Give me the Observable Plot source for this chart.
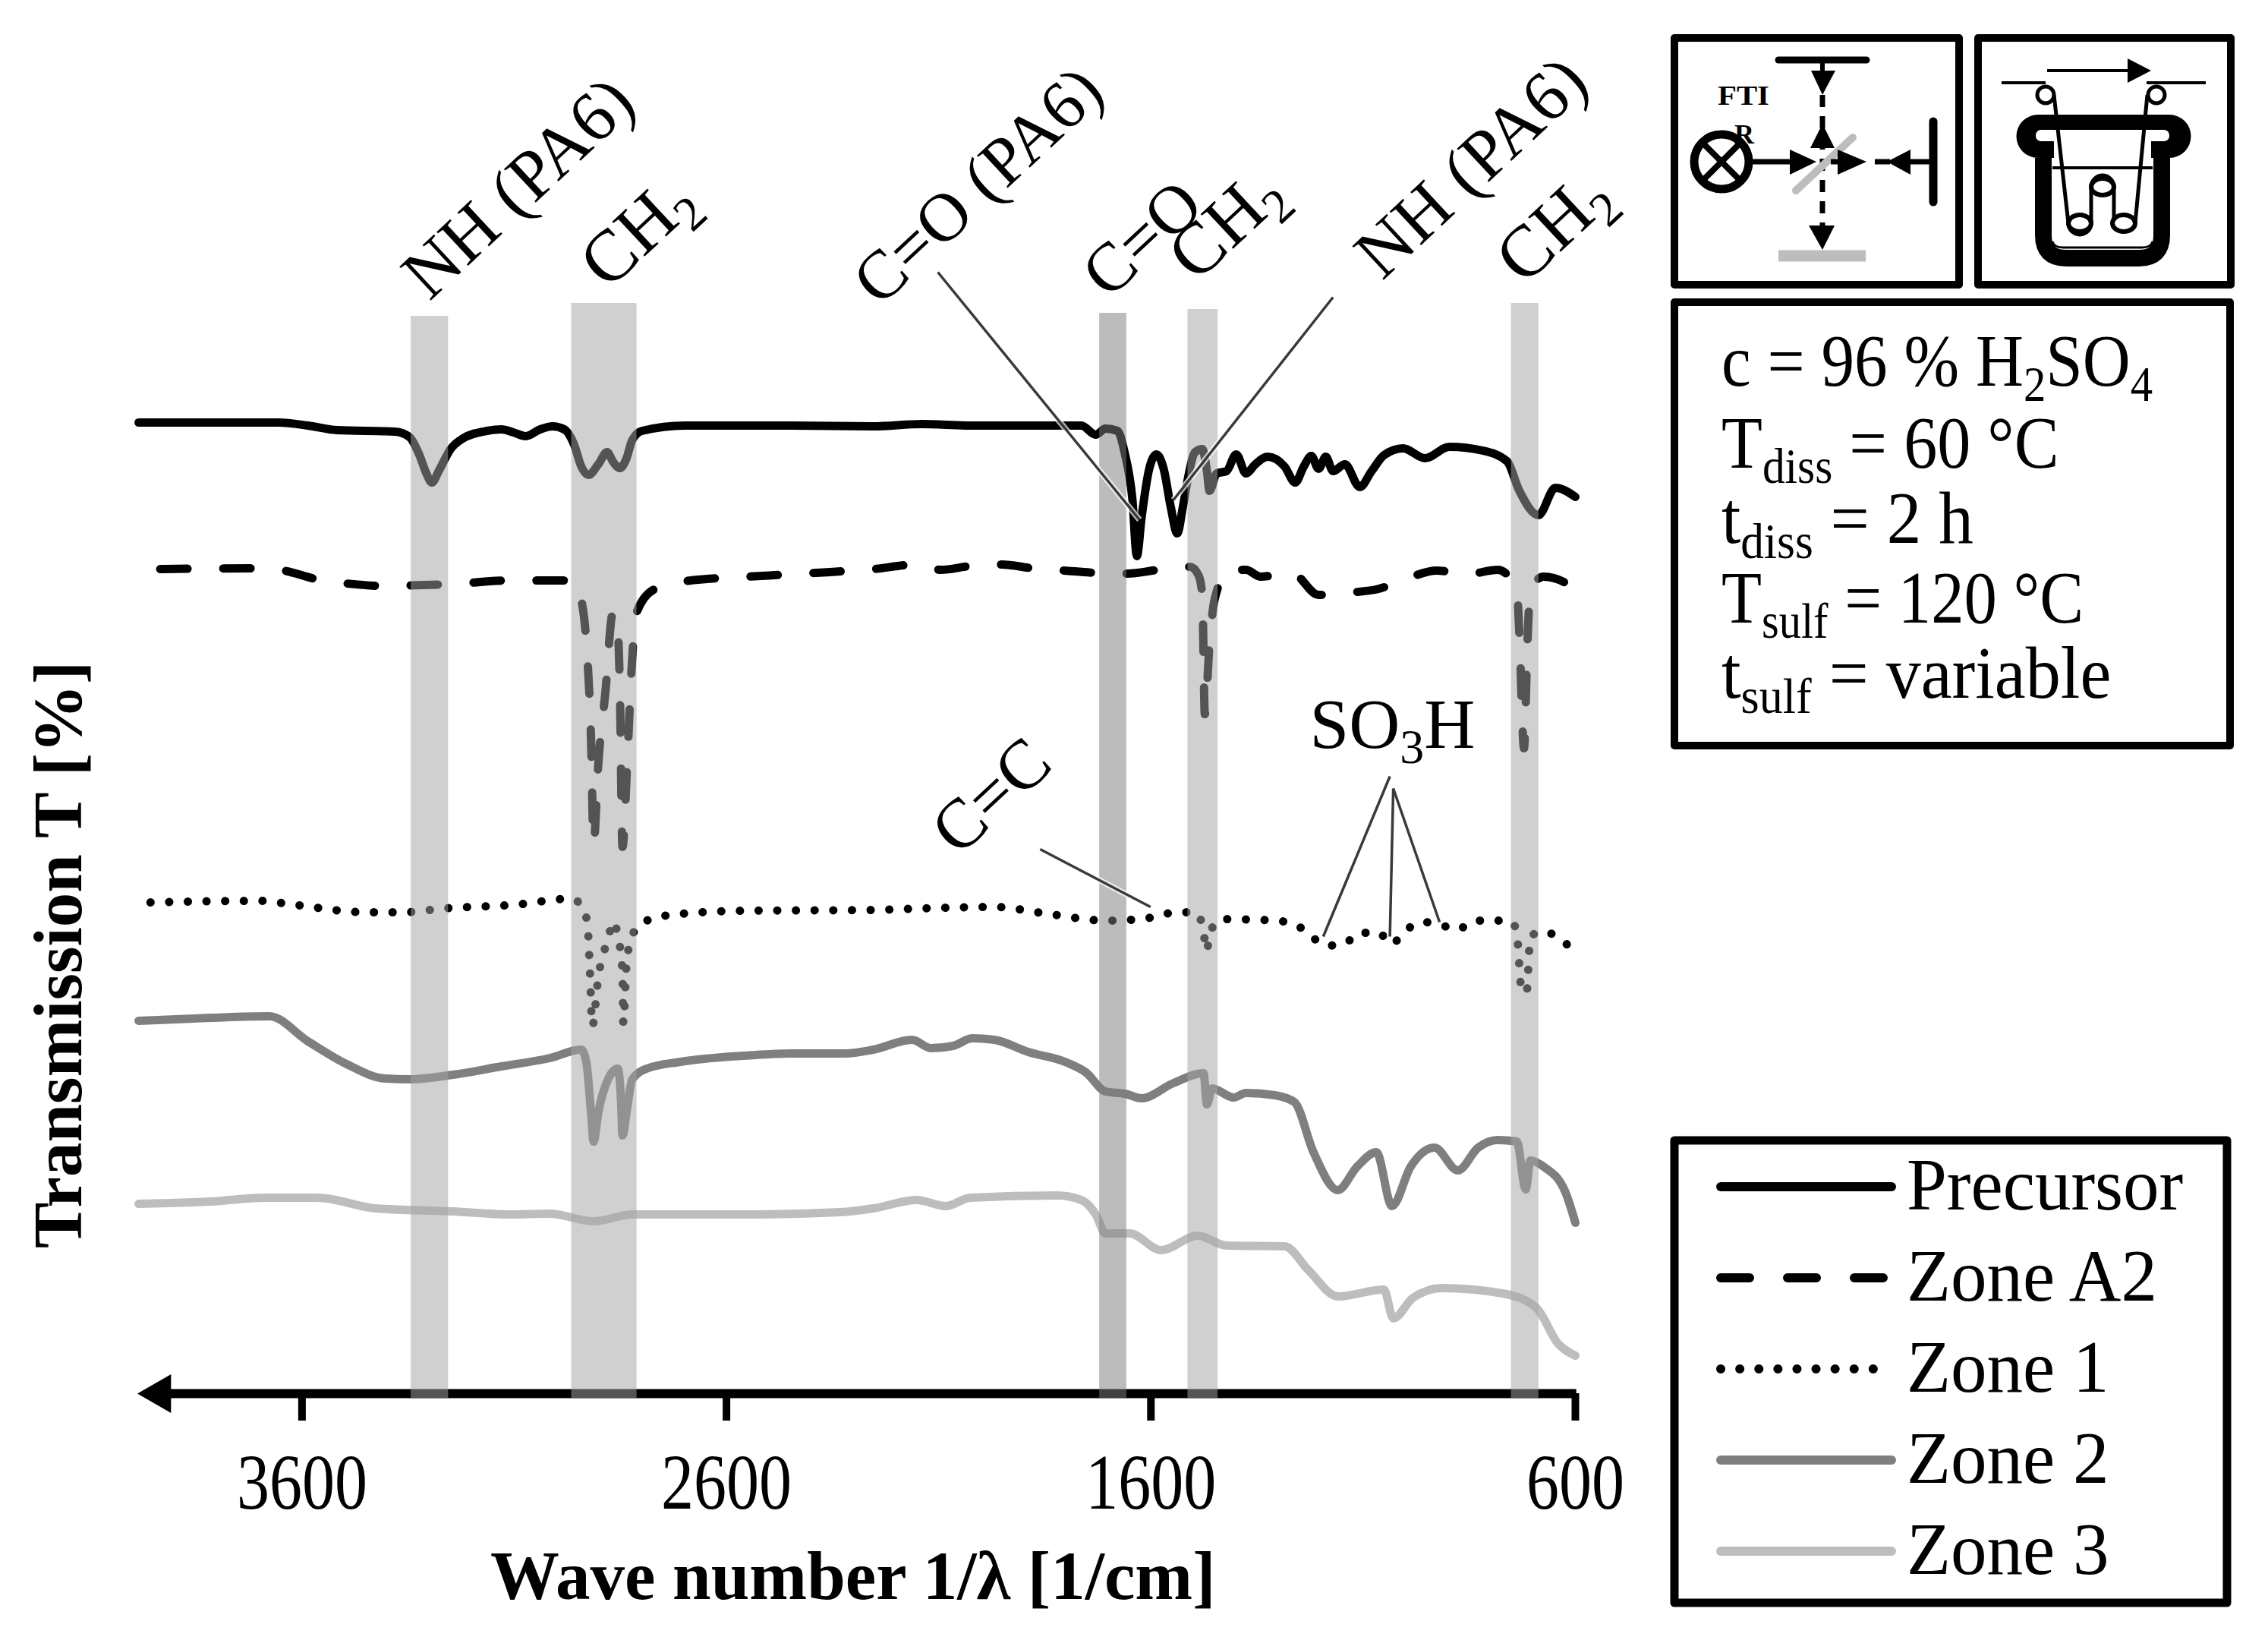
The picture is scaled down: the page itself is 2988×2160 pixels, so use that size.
<!DOCTYPE html>
<html><head><meta charset="utf-8">
<style>
html,body{margin:0;padding:0;background:#fff}
#wrap{position:relative;width:2988px;height:2160px;overflow:hidden;font-family:"Liberation Serif",serif}
#chart{position:absolute;left:0;top:0}
#side{position:absolute;left:0;top:0}
</style>
<script src="https://cdn.jsdelivr.net/npm/d3@7"></script>
<script src="https://cdn.jsdelivr.net/npm/@observablehq/plot@0.6"></script>
</head><body><div id="wrap"><div id="chart"></div><div id="side"></div></div>
<script>
// Wavenumber [1/cm] and relative transmission (arbitrary units, curves are offset)
const precursorW=[3985,3814,3655,3586,3518,3381,3347,3324,3307,3294,3278,3250,3221,3164,3130,3102,3073,3039,3010,2982,2959,2942,2925,2902,2881,2868,2851,2836,2822,2799,2697,2446,2254,2140,2026,1821,1764,1730,1707,1679,1661,1644,1633,1622,1604,1587,1570,1553,1538,1525,1513,1496,1479,1468,1462,1445,1422,1399,1376,1354,1325,1285,1260,1240,1222,1205,1188,1171,1143,1108,1080,1051,1006,954,897,818,761,732,687,647,600];
const precursorT=[1289,1289,1289,1285,1279,1277,1270,1247,1222,1210,1225,1254,1268,1278,1280,1276,1271,1280,1284,1280,1260,1231,1220,1234,1250,1238,1229,1241,1266,1278,1285,1285,1284,1287,1285,1285,1285,1273,1281,1278,1247,1190,1113,1164,1228,1247,1228,1177,1143,1177,1215,1250,1254,1225,1199,1222,1225,1247,1222,1234,1244,1231,1210,1231,1245,1228,1244,1225,1234,1204,1225,1246,1255,1242,1257,1252,1238,1199,1167,1203,1191];
const zoneA2W=[3934,3712,3643,3569,3495,3415,3255,3107,2959,2942,2930,2919,2913,2902,2885,2868,2859,2851,2845,2834,2824,2813,2771,2697,2549,2389,2254,2152,2095,2026,1952,1878,1804,1730,1656,1582,1508,1488,1479,1473,1462,1450,1416,1376,1342,1268,1205,1131,1063,1000,926,857,783,738,732,721,713,706,675,624,600];
const zoneA2T=[1096,1097,1094,1083,1077,1074,1076,1081,1081,1056,998,871,734,839,935,1037,1037,935,730,839,960,1037,1069,1080,1086,1091,1096,1102,1095,1100,1102,1097,1094,1091,1090,1095,1099,1088,1062,905,998,1056,1095,1095,1086,1091,1062,1065,1070,1083,1094,1089,1095,1069,1011,860,998,1069,1086,1078,1062];
const zone1W=[3957,3700,3620,3449,3358,3267,3096,2965,2936,2927,2922,2916,2902,2879,2866,2857,2845,2843,2836,2828,2813,2779,2737,2560,2254,2140,1969,1844,1707,1622,1536,1496,1479,1468,1462,1433,1308,1257,1222,1185,1143,1108,1063,1034,1000,960,920,880,835,789,749,738,726,715,706,675,635,600];
const zone1T=[657,659,654,644,644,649,654,662,647,625,571,494,558,609,632,616,565,498,571,603,622,635,640,646,647,649,651,642,633,635,644,644,628,593,616,635,633,627,612,600,603,617,617,602,620,631,628,621,633,633,631,616,539,539,612,619,608,592];
const zone2W=[3985,3814,3677,3586,3495,3404,3347,3244,3130,3016,2942,2930,2919,2913,2902,2879,2856,2848,2845,2834,2822,2788,2708,2560,2446,2321,2254,2163,2118,2066,2021,1969,1889,1798,1753,1707,1661,1622,1547,1476,1468,1456,1405,1376,1308,1262,1217,1160,1114,1069,1032,988,932,877,829,783,738,717,706,675,624,600];
const zone2T=[501,505,507,474,444,425,424,430,441,452,463,446,380,342,380,424,438,391,350,386,424,438,447,455,458,458,463,476,465,468,478,476,460,446,433,408,405,399,419,432,391,412,400,406,403,394,328,278,309,328,257,309,334,304,334,344,342,279,317,309,276,235];
const zone3W=[3985,3814,3689,3563,3427,3244,3107,3016,2913,2822,2560,2332,2254,2152,2083,2026,1821,1764,1730,1707,1650,1576,1490,1422,1285,1228,1160,1051,1029,983,915,772,692,641,600];
const zone3T=[260,263,268,268,254,250,246,247,237,246,246,249,254,265,257,268,271,265,246,221,221,199,218,205,204,172,138,147,109,136,149,142,123,76,60];

const xTicks=[3600,2600,1600,600];
const legendNames=["Precursor","Zone A2","Zone 1","Zone 2","Zone 3"];
const axisT=10, topT=1845;
const bandLo=[3343,2965,1721,1513,751], bandHi=[3255,2811,1657,1442,686], bandTop=[1429,1446,1433,1438,1446];
const bandFill=["#a3a3a3","#a3a3a3","#7d7d7d","#a3a3a3","#a3a3a3"];
const labelText=["NH (PA6)","CH₂","C=O (PA6)","C=O","CH₂","NH (PA6)","CH₂","C=C"];
const labelW=[3300,2880,2240,1700,1494,1055,722,2054];
const labelT=[1448,1462,1440,1450,1472,1475,1468,716];
const labelSize=[93,96,90,90,96,93,96,92];
const leaderW1=[2102,1171,1861,1037,1029,1029], leaderT1=[1487,1454,727,823,807,807];
const leaderW2=[1627,1547,1601,1194,1037,920], leaderT2=[1161,1187,651,612,612,631];
const idx=d3.range(bandLo.length), lidx=d3.range(labelText.length), ldr=d3.range(leaderW1.length);
const serif='"Liberation Serif",serif';

const lineOpts={curve:"monotone-x",strokeLinecap:"round",strokeLinejoin:"round"};
const plot=Plot.plot({
  width:2200,height:2160,marginTop:0,marginLeft:0,marginRight:0,marginBottom:325,
  style:{fontFamily:serif,background:"#fff",overflow:"visible"},
  x:{domain:[4000,600],range:[173.7,2075],axis:null},
  y:{domain:[axisT,topT],range:[1835,0],axis:null},
  marks:[
    Plot.line(precursorW,{x:precursorW,y:precursorT,stroke:"#000",strokeWidth:11,...lineOpts}),
    Plot.line(zoneA2W,{x:zoneA2W,y:zoneA2T,stroke:"#000",strokeWidth:11,strokeDasharray:"36 47",...lineOpts}),
    Plot.line(zone1W,{x:zone1W,y:zone1T,stroke:"#000",strokeWidth:11,strokeDasharray:"0.1 24.5",...lineOpts}),
    Plot.line(zone2W,{x:zone2W,y:zone2T,stroke:"#7f7f7f",strokeWidth:11,...lineOpts}),
    Plot.line(zone3W,{x:zone3W,y:zone3T,stroke:"#bdbdbd",strokeWidth:11,...lineOpts}),
    Plot.ruleY([axisT],{x1:3925,x2:597,stroke:"#000",strokeWidth:12}),
    Plot.dot([3935],{x:d=>d,y:axisT,symbol:"triangle",r:19,fill:"#000",stroke:"none",rotate:-90}),
    Plot.axisX({ticks:xTicks,tickFormat:d=>`${d}`,tickSize:36,tickPadding:42,fontSize:104,strokeWidth:10,stroke:"#000",fill:"#000",label:null}),
    Plot.rect(idx,{x1:i=>bandLo[i],x2:i=>bandHi[i],y1:axisT-6,y2:i=>bandTop[i],fill:i=>bandFill[i],fillOpacity:.515}),
    Plot.link(ldr,{x1:i=>leaderW1[i],y1:i=>leaderT1[i],x2:i=>leaderW2[i],y2:i=>leaderT2[i],stroke:"#fff",strokeWidth:8,strokeOpacity:.7}),
    Plot.link(ldr,{x1:i=>leaderW1[i],y1:i=>leaderT1[i],x2:i=>leaderW2[i],y2:i=>leaderT2[i],stroke:"#3a3a3a",strokeWidth:3.5}),
    Plot.text(lidx,{x:i=>labelW[i],y:i=>labelT[i],text:i=>labelText[i],rotate:-43,textAnchor:"start",lineAnchor:"bottom",fontSize:i=>labelSize[i],fill:"#000"}),
    Plot.text(["SO₃H"],{x:1226,y:861,textAnchor:"start",lineAnchor:"bottom",fontSize:93,fill:"#000"}),
    Plot.text(["Wave number 1/λ [1/cm]"],{x:2302,y:-260,textAnchor:"middle",lineAnchor:"bottom",fontSize:91,fontWeight:"bold",fill:"#000"}),
    Plot.text(["Transmission T [%]"],{x:4121,y:588,rotate:-90,textAnchor:"middle",lineAnchor:"bottom",fontSize:91,fontWeight:"bold",fill:"#000"})
  ]
});
// real subscripts for chemical formulae
const subs={"₂":"2","₃":"3"};
plot.querySelectorAll("text").forEach(t=>{
  const s=t.textContent;
  if(!/[₂₃]/.test(s))return;
  while(t.firstChild)t.removeChild(t.firstChild);
  let shift=0;
  for(const part of s.split(/([₂₃])/)){
    if(!part)continue;
    const ts=document.createElementNS("http://www.w3.org/2000/svg","tspan");
    if(subs[part]){ts.textContent=subs[part];ts.setAttribute("font-size","64");ts.setAttribute("dy","20");shift=20;}
    else{ts.textContent=part;if(shift){ts.setAttribute("dy",-shift);shift=0;}}
    t.appendChild(ts);
  }
});
// condensed tick digits as in the source figure
plot.querySelectorAll('[aria-label="x-axis tick label"] text').forEach(t=>{
  t.setAttribute("textLength",t.textContent.length*43);t.setAttribute("lengthAdjust","spacingAndGlyphs");
});
document.getElementById("chart").appendChild(plot);

// Side panels: schematic icons, process parameters and the legend
const paramLines=[
  [["c = 96 % H",0],["2",1],["SO",0],["4",1]],
  [["T",0],["diss",1],[" = 60 °C",0]],
  [["t",0],["diss",1],[" = 2 h",0]],
  [["T",0],["sulf",1],[" = 120 °C",0]],
  [["t",0],["sulf",1],[" = variable",0]]
];
const paramY=[508,616,715,820,919];
const paramScale=[.89,.90,.93,.885,.94];
const legendStyles=[
  {c:"#000",d:""},{c:"#000",d:"38 50"},{c:"#000",d:"0.1 25"},{c:"#7f7f7f",d:""},{c:"#bdbdbd",d:""}
];
const legendY=[1563,1683,1803,1923,2043];
const rt=(s)=>s.map(([x,sub],i)=>{
  const prev=i>0&&s[i-1][1];
  return `<tspan ${sub?'font-size="66" dy="20"':(prev?'dy="-20"':'')} xml:space="preserve">${x}</tspan>`}).join("");
const tri=(p,f="#000")=>`<polygon points="${p}" fill="${f}"/>`;
const box=(x,y,w,h,sw=10)=>`<rect x="${x}" y="${y}" width="${w}" height="${h}" fill="#fff" stroke="#000" stroke-width="${sw}" stroke-linejoin="round"/>`;
const ln=(a,b,c,d,sw,col="#000",extra="")=>`<line x1="${a}" y1="${b}" x2="${c}" y2="${d}" stroke="${col}" stroke-width="${sw}" ${extra}/>`;
let h=`<svg xmlns="http://www.w3.org/2000/svg" width="2988" height="2160" viewBox="0 0 2988 2160" style="font-family:'Liberation Serif',serif">`;
h+=box(2206,50,375,325)+box(2606,50,333,325)+box(2206,398,732,584)+box(2206,1502,728,609,11);
// spectrometer icon
h+=ln(2343,79,2459,79,9,"#000",'stroke-linecap="round"');
h+=ln(2401,79,2401,100,6)+tri("2386,93 2418,93 2401,125");
h+=ln(2401,125,2401,300,7,"#000",'stroke-dasharray="16 12"');
h+=tri("2401,163 2385,195 2417,195")+tri("2401,329 2383,297 2417,297");
h+=ln(2343,337,2458,337,15,"#bdbdbd");
h+=ln(2366,251,2441,181,10,"#bdbdbd",'stroke-linecap="round"');
h+=`<circle cx="2268" cy="213" r="36" fill="#fff" stroke="#000" stroke-width="11"/>`+ln(2243,188,2293,238,8)+ln(2243,238,2293,188,8);
h+=ln(2304,213,2365,213,7)+tri("2393,213 2358,197 2358,230");
h+=ln(2412,213,2432,213,7)+tri("2459,213 2421,197 2421,230");
h+=ln(2470,213,2490,213,7)+tri("2486,213 2517,197 2517,230")+ln(2517,213,2547,213,7);
h+=ln(2547,160,2547,266,11,"#000",'stroke-linecap="round"');
h+=`<text x="2263" y="138" font-size="36" font-weight="bold" textLength="68" lengthAdjust="spacingAndGlyphs">FTI</text><text x="2285" y="189" font-size="36" font-weight="bold">R</text>`;
// dissolution bath icon
h+=ln(2697,93,2810,93,4)+tri("2834,93 2803,77 2803,109");
h+=ln(2637,109,2695,109,4)+ln(2828,109,2906,109,4);
h+=`<circle cx="2695" cy="125" r="11" fill="#fff" stroke="#000" stroke-width="5"/><circle cx="2841" cy="125" r="11" fill="#fff" stroke="#000" stroke-width="5"/>`;
h+=`<path d="M2692,208 L2692,310 Q2692,340 2722,340 L2818,340 Q2848,340 2848,310 L2848,208" fill="#fff" stroke="#000" stroke-width="22"/>`;
h+=`<path d="M2685,151 L2858,151 A28,28 0 0 1 2858,208 L2685,208 A28,28 0 0 1 2685,151Z" fill="#000"/>`;
h+=`<rect x="2682" y="171" width="176" height="15" rx="7" fill="#fff"/><rect x="2706" y="171" width="128" height="44" fill="#fff"/>`;
h+=ln(2704,221,2836,221,4)+`<path d="M2704,318 Q2706,326 2718,326 L2822,326 Q2834,326 2836,318" fill="none" stroke="#000" stroke-width="3"/>`;
h+=`<path d="M2706,125 L2725,294 A15,15 0 0 0 2755,294 L2755,246 A15,15 0 0 1 2785,246 L2785,294 A15,15 0 0 0 2813,294 L2829,125" fill="none" stroke="#000" stroke-width="5"/>`;
for(const [x,y] of [[2740,294],[2798,294],[2770,246]])h+=`<ellipse cx="${x}" cy="${y}" rx="15" ry="11" fill="#fff" stroke="#000" stroke-width="6"/>`;
// parameters
paramLines.forEach((s,i)=>{h+=`<text transform="translate(2268,${paramY[i]}) scale(${paramScale[i]},1)" font-size="98">${rt(s)}</text>`;});
// legend
legendNames.forEach((n,i)=>{
  const st=legendStyles[i];
  h+=ln(2267,legendY[i],2492,legendY[i],12,st.c,`stroke-linecap="round" ${st.d?`stroke-dasharray="${st.d}"`:""}`);
  h+=`<text transform="translate(2512,${legendY[i]+30}) scale(.97,1)" font-size="98">${n}</text>`;
});
h+=`</svg>`;
document.getElementById("side").innerHTML=h;
</script></body></html>
